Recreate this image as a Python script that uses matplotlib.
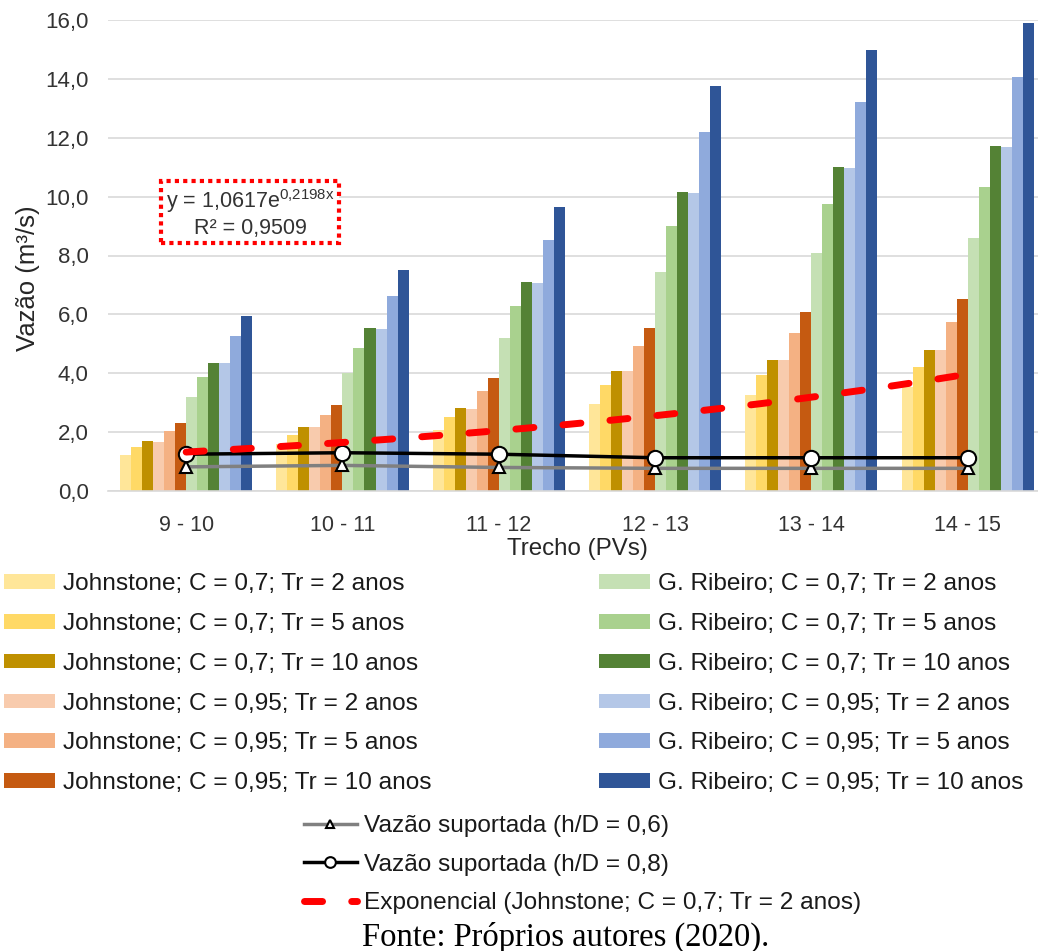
import numpy as np
import matplotlib
matplotlib.use("Agg")
import matplotlib.pyplot as plt

plt.rcParams['font.family'] = ['Liberation Sans', 'DejaVu Sans']
plt.rcParams['mathtext.fontset'] = 'custom'
plt.rcParams['mathtext.rm'] = 'Liberation Sans'

# dados
trechos = ["9 - 10", "10 - 11", "11 - 12", "12 - 13", "13 - 14", "14 - 15"]

johnstone_07_tr2 = [1.22, 1.59, 2.06, 2.97, 3.27, 3.52]
johnstone_07_tr5 = [1.50, 1.90, 2.50, 3.61, 3.95, 4.22]
johnstone_07_tr10 = [1.69, 2.16, 2.83, 4.06, 4.45, 4.78]
johnstone_095_tr2 = [1.66, 2.16, 2.79, 4.06, 4.45, 4.78]
johnstone_095_tr5 = [2.03, 2.59, 3.40, 4.91, 5.38, 5.75]
johnstone_095_tr10 = [2.31, 2.93, 3.84, 5.55, 6.09, 6.52]
ribeiro_07_tr2 = [3.20, 4.02, 5.20, 7.44, 8.07, 8.58]
ribeiro_07_tr5 = [3.87, 4.86, 6.27, 8.99, 9.74, 10.34]
ribeiro_07_tr10 = [4.36, 5.54, 7.11, 10.16, 11.00, 11.71]
ribeiro_095_tr2 = [4.36, 5.50, 7.07, 10.12, 10.96, 11.67]
ribeiro_095_tr5 = [5.27, 6.64, 8.54, 12.20, 13.23, 14.07]
ribeiro_095_tr10 = [5.94, 7.51, 9.66, 13.75, 14.97, 15.89]

vazao_06 = [0.82, 0.87, 0.80, 0.77, 0.77, 0.77]
vazao_08 = [1.25, 1.30, 1.25, 1.13, 1.13, 1.13]

# linha de tendência exponencial (equação do gráfico)
trend_a = 1.0617
trend_b = 0.2198

series = [
    ("Johnstone; C = 0,7; Tr = 2 anos", johnstone_07_tr2, "#FFE699"),
    ("Johnstone; C = 0,7; Tr = 5 anos", johnstone_07_tr5, "#FFD966"),
    ("Johnstone; C = 0,7; Tr = 10 anos", johnstone_07_tr10, "#BF9000"),
    ("Johnstone; C = 0,95; Tr = 2 anos", johnstone_095_tr2, "#F8CBAD"),
    ("Johnstone; C = 0,95; Tr = 5 anos", johnstone_095_tr5, "#F4B183"),
    ("Johnstone; C = 0,95; Tr = 10 anos", johnstone_095_tr10, "#C55A11"),
    ("G. Ribeiro; C = 0,7; Tr = 2 anos", ribeiro_07_tr2, "#C5E0B4"),
    ("G. Ribeiro; C = 0,7; Tr = 5 anos", ribeiro_07_tr5, "#A9D18E"),
    ("G. Ribeiro; C = 0,7; Tr = 10 anos", ribeiro_07_tr10, "#548235"),
    ("G. Ribeiro; C = 0,95; Tr = 2 anos", ribeiro_095_tr2, "#B4C7E7"),
    ("G. Ribeiro; C = 0,95; Tr = 5 anos", ribeiro_095_tr5, "#8FAADC"),
    ("G. Ribeiro; C = 0,95; Tr = 10 anos", ribeiro_095_tr10, "#2F5597"),
]

W, H = 1038, 951
fig = plt.figure(figsize=(W / 100, H / 100), dpi=100)
ax = fig.add_axes([108 / W, 1 - 491 / H, 1 - 108 / W, (491 - 20) / H])

x = np.arange(len(trechos))
w = 0.0705
bars = []
for j, (nome, vals, cor) in enumerate(series):
    b = ax.bar(x + (j - 5.5) * w, vals, w, color=cor, label=nome, zorder=2)
    bars.append(b)

l06, = ax.plot(x, vazao_06, color="#808080", lw=2.5, marker="^", ms=9,
               mfc="white", mec="black", mew=1.5, zorder=4,
               label="Vazão suportada (h/D = 0,6)")
l08, = ax.plot(x, vazao_08, color="black", lw=2.5, marker="o", ms=11,
               mfc="white", mec="black", mew=1.5, zorder=5,
               label="Vazão suportada (h/D = 0,8)")

xt = np.linspace(0, 5, 200)
yt = trend_a * np.exp(trend_b * (xt + 1))
lt, = ax.plot(xt, yt, color="#FF0000", lw=5, dashes=(2.6, 4.2),
              dash_capstyle="round", zorder=6,
              label="Exponencial (Johnstone; C = 0,7; Tr = 2 anos)")

ax.set_xlim(-0.5, 5.45)
ax.set_ylim(0, 16)
ax.set_yticks(np.arange(0, 17, 2))
ax.set_yticklabels([f"{v:.1f}".replace(".", ",") for v in np.arange(0, 17, 2)])
ax.set_xticks(x)
ax.set_xticklabels(trechos)
ax.tick_params(axis="both", length=0, labelcolor="#333333")
ax.tick_params(axis="x", pad=17, labelsize=15.5)
ax.tick_params(axis="y", pad=14, labelsize=16)
ax.grid(axis="y", color="#d9d9d9", lw=1.2, zorder=0)
ax.set_axisbelow(True)
for s in ["top", "right", "left"]:
    ax.spines[s].set_visible(False)
ax.spines["bottom"].set_color("#d9d9d9")
ax.spines["bottom"].set_linewidth(1.2)

fig.text(28 / W, 1 - 278 / H, "Vazão (m³/s)", rotation=90, ha="center",
         va="center", fontsize=18.5, color="#262626")
fig.text(577 / W, 1 - 549 / H, "Trecho (PVs)", ha="center", va="center",
         fontsize=17.4, color="#262626")

fig.text(250 / W, 1 - 213 / H,
         "y = 1,0617e$^{\\mathregular{0{,}2198x}}$\nR² = 0,9509",
         ha="center", va="center", fontsize=15.5, color="#333333",
         multialignment="center",
         bbox=dict(boxstyle="square,pad=0.2", fc="white", ec="#FF0000",
                   lw=3, ls=(0, (1, 1))))

leg_kw = dict(frameon=False, fontsize=17.6, handlelength=2.1,
              handleheight=0.55, handletextpad=0.3, labelspacing=0.73,
              borderpad=0, borderaxespad=0, labelcolor="#1a1a1a")
leg1 = fig.legend(bars[:6], [s[0] for s in series[:6]], loc="upper left",
                  bbox_to_anchor=(4 / W, 1 - 573 / H), **leg_kw)
leg2 = fig.legend(bars[6:], [s[0] for s in series[6:]], loc="upper left",
                  bbox_to_anchor=(599 / W, 1 - 573 / H), **leg_kw)
leg3 = fig.legend([l06, l08, lt], [l06.get_label(), l08.get_label(), lt.get_label()],
                  loc="upper left", bbox_to_anchor=(304 / W, 1 - 815 / H),
                  frameon=False, fontsize=17.6, handlelength=2.15,
                  handletextpad=0.3, labelspacing=0.67, borderpad=0,
                  borderaxespad=0, markerscale=0.7, labelcolor="#1a1a1a")

fig.text(566 / W, 1 - 937 / H, "Fonte: Próprios autores (2020).",
         ha="center", va="center", fontsize=23.5,
         family=["Liberation Serif", "DejaVu Serif"], color="black")

fig.savefig("out.png", dpi=100)
